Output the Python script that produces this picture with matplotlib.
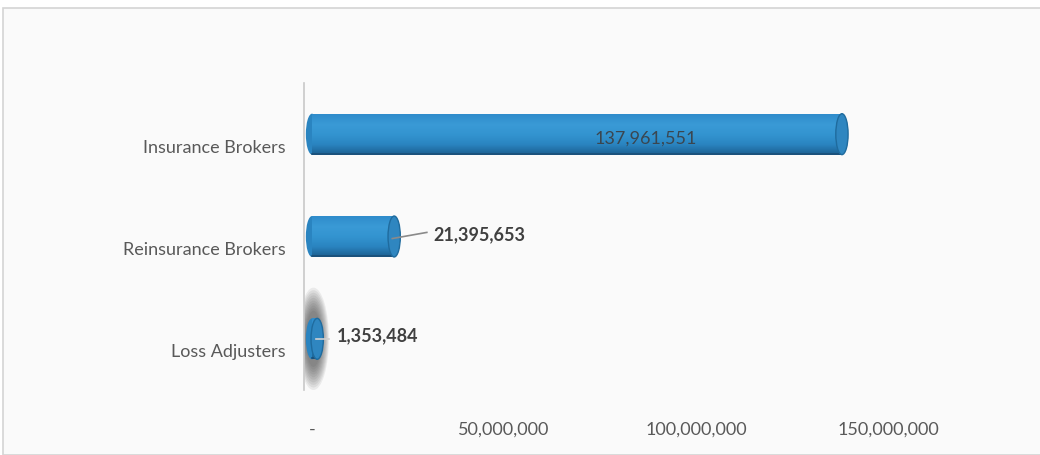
import numpy as np
import matplotlib.pyplot as plt
import matplotlib.transforms as mtransforms
from matplotlib.patches import Rectangle, Ellipse
from matplotlib.ticker import FuncFormatter
from matplotlib.colors import LinearSegmentedColormap

categories = ["Loss Adjusters", "Reinsurance Brokers", "Insurance Brokers"]
values = [1353484, 21395653, 137961551]
xticks = [0, 50000000, 100000000, 150000000]

plt.rcParams['font.family'] = ['Lato', 'DejaVu Sans']

fig = plt.figure(figsize=(10.4, 4.56), dpi=100, facecolor='white')
# chart area panel with thin border
fig.patches.append(Rectangle((3 / 1040, 0), 1, 1 - 9 / 456, transform=fig.transFigure,
                             facecolor='#fafafa', edgecolor='#d4d4d4', lw=1.2, zorder=-5))

ax = fig.add_axes([304 / 1040, 1 - 391 / 456, 613 / 1040, 307 / 456])
ax.set_facecolor('none')

bar_h = 0.4
cap_w = 3.2e6
grad = np.linspace(0, 1, 64).reshape(-1, 1)
cyl = LinearSegmentedColormap.from_list('cyl', ['#1b5f90', '#2a84c0', '#3394d0', '#3a9ad6', '#2f8ccb'])

for i, v in enumerate(values):
    y0, y1 = i - bar_h / 2, i + bar_h / 2
    if i == 0:
        # soft dark halo round the tiny bar
        for k in range(10):
            ax.add_patch(Ellipse((v / 2 - 0.3e6, i), 4.0e6 + k * 0.45e6, 0.55 + k * 0.05,
                                 facecolor='#303030', edgecolor='none', alpha=0.08, zorder=1))
    body = Rectangle((0, y0), v, bar_h, facecolor='none', edgecolor='none')
    ax.add_patch(body)
    im = ax.imshow(grad, extent=(0, v, y0, y1), origin='lower', cmap=cyl,
                   aspect='auto', zorder=2, interpolation='bilinear')
    im.set_clip_path(body)
    # rounded back end and visible front end of the cylinder
    ax.add_patch(Ellipse((0, i), cap_w, bar_h, facecolor='#2a84c0', edgecolor='none', zorder=1.9))
    ax.add_patch(Ellipse((v, i), cap_w, bar_h, facecolor='#2f86c0', edgecolor='#1f6b9e',
                         lw=1.0, zorder=3))
    ax.plot([0, v], [y0 + 0.01, y0 + 0.01], color='#1a4f78', lw=1.2, zorder=2.5)

ax.set_xlim(-2.08e6, 157.5e6)
ax.set_ylim(-0.5, 2.5)

# value labels
ax.text(values[2] * 0.63, 2 - 0.03, f"{values[2]:,}", ha='center', va='center',
        fontsize=13, color='#3a4650', zorder=4)
ax.plot([values[1] - 0.5e6, values[1] + 4e6, values[1] + 8.5e6],
        [1 - 0.02, 1 + 0.01, 1 + 0.04], color='#8a8a8a', lw=1.2, zorder=4)
ax.text(values[1] + 10.2e6, 1.03, f"{values[1]:,}", ha='left', va='center',
        fontsize=13, color='#404040', fontweight='bold', zorder=4)
ax.plot([values[0] - 0.3e6, values[0] + 3.0e6], [0.0, 0.0], color='#d0d0d0', lw=1.2, zorder=4)
ax.text(values[0] + 5.2e6, 0.04, f"{values[0]:,}", ha='left', va='center',
        fontsize=13, color='#404040', fontweight='bold', zorder=4)

ax.set_yticks(range(len(categories)))
ax.set_yticklabels(categories)
ax.set_xticks(xticks)
ax.xaxis.set_major_formatter(FuncFormatter(lambda x, p: '-' if x == 0 else f"{int(x):,}"))
ax.tick_params(axis='y', length=0, pad=13, labelsize=13, labelcolor='#595959')
ax.tick_params(axis='x', length=0, pad=22, labelsize=13, labelcolor='#595959')

# category labels sit a little below the bar centres
shift = mtransforms.ScaledTranslation(0, -11 / 100, fig.dpi_scale_trans)
for lbl in ax.get_yticklabels():
    lbl.set_transform(lbl.get_transform() + shift)

for s in ['top', 'right', 'bottom']:
    ax.spines[s].set_visible(False)
ax.spines['left'].set_color('#c8c8c8')
ax.spines['left'].set_linewidth(1.2)

fig.savefig('out.png', dpi=100, facecolor='white')
